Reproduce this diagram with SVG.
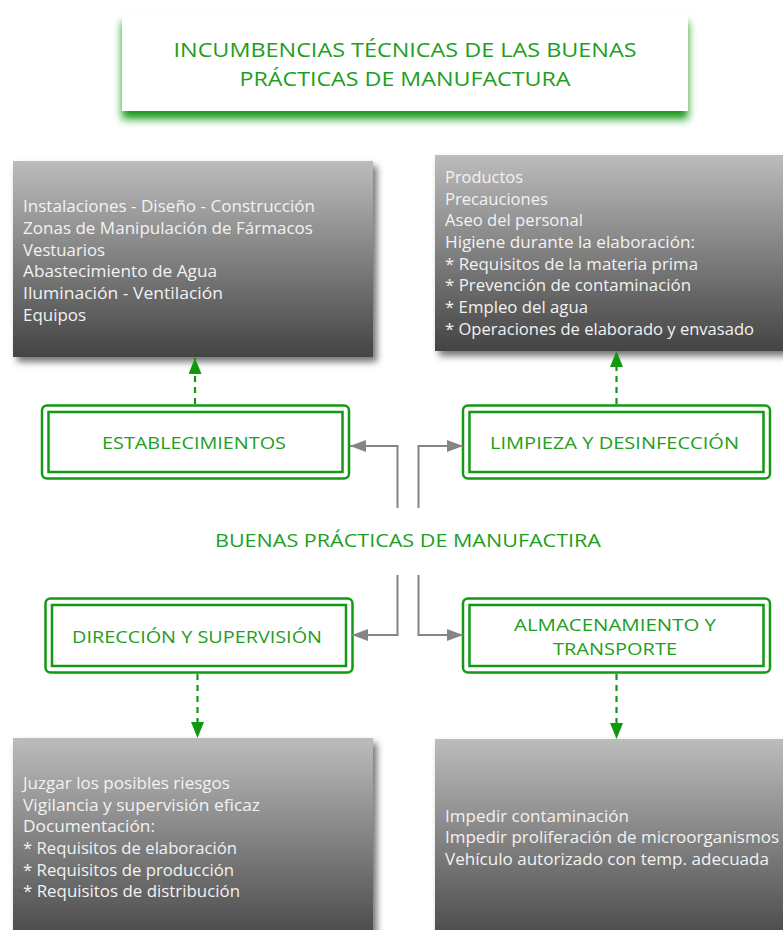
<svg xmlns="http://www.w3.org/2000/svg" width="783" height="930" viewBox="0 0 783 930">
<style>
.title{font-family:"Open Sans","Liberation Sans",sans-serif;font-size:20px;fill:#1e9e1e;text-anchor:middle}
.lbl{font-family:"Open Sans","Liberation Sans",sans-serif;font-size:17px;fill:#1e9e1e;text-anchor:middle}
.ctr{font-family:"Open Sans","Liberation Sans",sans-serif;font-size:19px;fill:#1e9e1e;text-anchor:middle}
.body{font-family:"Open Sans","Liberation Sans",sans-serif;font-size:15.5px;fill:#f2f2f2}
.grey{fill:url(#gg);filter:url(#sh)}
.outer{fill:#fff;stroke:#139913;stroke-width:2.5}
.inner{fill:none;stroke:#139913;stroke-width:2.5}
.conn{fill:none;stroke:#858585;stroke-width:2}
.dash{fill:none;stroke:#109910;stroke-width:2.2;stroke-dasharray:6 5}
</style>
<defs>
<linearGradient id="gg" x1="0" y1="0" x2="0" y2="1">
<stop offset="0" stop-color="#bcbcbc"/>
<stop offset="1" stop-color="#444444"/>
</linearGradient>
<filter id="sh" x="-10%" y="-10%" width="130%" height="130%">
<feDropShadow dx="4" dy="5" stdDeviation="3.5" flood-color="#000" flood-opacity="0.55"/>
</filter>
<filter id="gsh" x="-10%" y="-20%" width="120%" height="170%">
<feDropShadow dx="0" dy="8" stdDeviation="4.5" flood-color="#169916" flood-opacity="1"/>
</filter>
<marker id="ga" viewBox="0 0 16 12" refX="16" refY="6" markerWidth="16" markerHeight="12" markerUnits="userSpaceOnUse" orient="auto">
<path d="M0,0 L16,6 L0,12 Z" fill="#858585"/>
</marker>
<marker id="gr" viewBox="0 0 16 13" refX="16" refY="6.5" markerWidth="16" markerHeight="13" markerUnits="userSpaceOnUse" orient="auto">
<path d="M0,0 L16,6.5 L0,13 Z" fill="#109910"/>
</marker>
</defs>
<rect width="783" height="930" fill="#fff"/>

<g id="title">
<rect x="122" y="14" width="566" height="97" fill="#fff" filter="url(#gsh)"/>
<text class="title" x="405" y="57" textLength="463" lengthAdjust="spacingAndGlyphs">INCUMBENCIAS TÉCNICAS DE LAS BUENAS</text>
<text class="title" x="405" y="86" textLength="331" lengthAdjust="spacingAndGlyphs">PRÁCTICAS DE MANUFACTURA</text>
</g>

<g id="box-establecimientos-detalle">
<rect class="grey" x="13" y="161" width="360" height="196"/>
<text class="body" x="23" y="212" textLength="292" lengthAdjust="spacingAndGlyphs">Instalaciones - Diseño - Construcción</text>
<text class="body" x="23" y="234" textLength="290" lengthAdjust="spacingAndGlyphs">Zonas de Manipulación de Fármacos</text>
<text class="body" x="23" y="256" textLength="82" lengthAdjust="spacingAndGlyphs">Vestuarios</text>
<text class="body" x="23" y="277" textLength="194" lengthAdjust="spacingAndGlyphs">Abastecimiento de Agua</text>
<text class="body" x="23" y="299" textLength="200" lengthAdjust="spacingAndGlyphs">Iluminación - Ventilación</text>
<text class="body" x="23" y="321" textLength="63" lengthAdjust="spacingAndGlyphs">Equipos</text>
</g>

<g id="box-limpieza-detalle">
<rect class="grey" x="435" y="155" width="360" height="196"/>
<text class="body" x="445" y="183" textLength="78" lengthAdjust="spacingAndGlyphs">Productos</text>
<text class="body" x="445" y="205" textLength="103" lengthAdjust="spacingAndGlyphs">Precauciones</text>
<text class="body" x="445" y="226" textLength="138" lengthAdjust="spacingAndGlyphs">Aseo del personal</text>
<text class="body" x="445" y="248" textLength="250" lengthAdjust="spacingAndGlyphs">Higiene durante la elaboración:</text>
<text class="body" x="445" y="270" textLength="253" lengthAdjust="spacingAndGlyphs">* Requisitos de la materia prima</text>
<text class="body" x="445" y="291" textLength="246" lengthAdjust="spacingAndGlyphs">* Prevención de contaminación</text>
<text class="body" x="445" y="313" textLength="143" lengthAdjust="spacingAndGlyphs">* Empleo del agua</text>
<text class="body" x="445" y="335" textLength="309" lengthAdjust="spacingAndGlyphs">* Operaciones de elaborado y envasado</text>
</g>

<g id="box-direccion-detalle">
<rect class="grey" x="13" y="738" width="360" height="210"/>
<text class="body" x="23" y="789" textLength="207" lengthAdjust="spacingAndGlyphs">Juzgar los posibles riesgos</text>
<text class="body" x="23" y="811" textLength="237" lengthAdjust="spacingAndGlyphs">Vigilancia y supervisión eficaz</text>
<text class="body" x="23" y="832" textLength="132" lengthAdjust="spacingAndGlyphs">Documentación:</text>
<text class="body" x="23" y="854" textLength="214" lengthAdjust="spacingAndGlyphs">* Requisitos de elaboración</text>
<text class="body" x="23" y="876" textLength="211" lengthAdjust="spacingAndGlyphs">* Requisitos de producción</text>
<text class="body" x="23" y="897" textLength="217" lengthAdjust="spacingAndGlyphs">* Requisitos de distribución</text>
</g>

<g id="box-almacenamiento-detalle">
<rect class="grey" x="435" y="739" width="360" height="210"/>
<text class="body" x="445" y="822" textLength="184" lengthAdjust="spacingAndGlyphs">Impedir contaminación</text>
<text class="body" x="445" y="843" textLength="334" lengthAdjust="spacingAndGlyphs">Impedir proliferación de microorganismos</text>
<text class="body" x="445" y="865" textLength="324" lengthAdjust="spacingAndGlyphs">Vehículo autorizado con temp. adecuada</text>
</g>

<g id="establecimientos">
<rect class="outer" x="42" y="405.5" width="307" height="73" rx="5"/>
<rect class="inner" x="48.5" y="412" width="294" height="60"/>
<text class="lbl" x="194" y="449" textLength="184" lengthAdjust="spacingAndGlyphs">ESTABLECIMIENTOS</text>
</g>

<g id="limpieza">
<rect class="outer" x="463" y="405.5" width="307" height="73" rx="5"/>
<rect class="inner" x="469.5" y="412" width="294" height="60"/>
<text class="lbl" x="614.5" y="449" textLength="249" lengthAdjust="spacingAndGlyphs">LIMPIEZA Y DESINFECCIÓN</text>
</g>

<g id="direccion">
<rect class="outer" x="45.5" y="598.5" width="307" height="74" rx="5"/>
<rect class="inner" x="52" y="605" width="294" height="61"/>
<text class="lbl" x="197" y="643" textLength="250" lengthAdjust="spacingAndGlyphs">DIRECCIÓN Y SUPERVISIÓN</text>
</g>

<g id="almacenamiento">
<rect class="outer" x="463" y="598.5" width="307" height="74" rx="5"/>
<rect class="inner" x="469.5" y="605" width="294" height="61"/>
<text class="lbl" x="615" y="631" textLength="202" lengthAdjust="spacingAndGlyphs">ALMACENAMIENTO Y</text>
<text class="lbl" x="615" y="655" textLength="124" lengthAdjust="spacingAndGlyphs">TRANSPORTE</text>
</g>

<g id="center">
<text class="ctr" x="408" y="547" textLength="386" lengthAdjust="spacingAndGlyphs">BUENAS PRÁCTICAS DE MANUFACTIRA</text>
</g>

<g id="connectors">
<path class="conn" d="M397.5,508 V446 H350" marker-end="url(#ga)"/>
<path class="conn" d="M418.5,508 V446 H463" marker-end="url(#ga)"/>
<path class="conn" d="M397.5,575 V635 H352" marker-end="url(#ga)"/>
<path class="conn" d="M418.5,575 V635 H463" marker-end="url(#ga)"/>
<path class="dash" d="M195,404 V358" marker-end="url(#gr)"/>
<path class="dash" d="M616.5,404 V351" marker-end="url(#gr)"/>
<path class="dash" d="M197.5,674 V738" marker-end="url(#gr)"/>
<path class="dash" d="M616.5,674 V739" marker-end="url(#gr)"/>
</g>
</svg>
